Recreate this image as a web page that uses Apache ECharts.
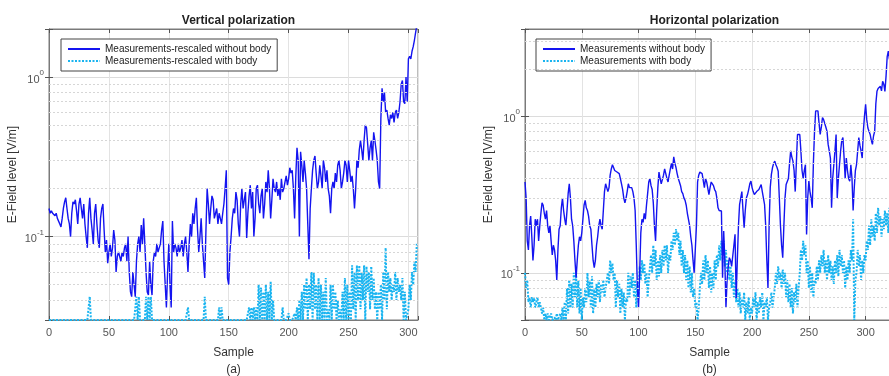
<!DOCTYPE html>
<html lang="en">
<head>
    <meta charset="UTF-8">
    <title>E-Field level</title>
    <script src="https://cdn.jsdelivr.net/npm/echarts@6/dist/echarts.min.js"></script>
</head>
<body style="margin:0;background:#fff;">
    <div id="main" style="width: 889px; height: 376px;"></div>
    <script>
    // 垂直极化 - 无人体 / 有人体
    var vertBlue = [
        .15,.14,.145,.14,.14,.135,.14,.13,.125,.12,
        .115,.13,.15,.165,.175,.15,.13,.12,.10,.14,
        .165,.16,.17,.145,.12,.16,.175,.15,.13,.16,
        .12,.10,.085,.14,.175,.13,.11,.09,.14,.16,
        .12,.095,.085,.13,.15,.16,.11,.08,.095,.068,
        .08,.09,.075,.085,.11,.095,.06,.075,.08,.075,
        .07,.08,.075,.085,.09,.07,.1,.06,.045,.042,
        .06,.05,.042,.07,.09,.1,.08,.118,.09,.13,
        .09,.06,.045,.043,.07,.05,.043,.07,.08,.075,
        .09,.08,.085,.09,.11,.125,.07,.05,.036,.06,
        .09,.05,.036,.125,.08,.09,.085,.075,.09,.08,
        .085,.095,.075,.09,.1,.08,.06,.09,.12,.1,
        .14,.12,.15,.175,.11,.08,.1,.13,.09,.07,
        .055,.11,.2,.16,.12,.15,.18,.17,.13,.14,
        .15,.12,.14,.13,.12,.14,.16,.2,.26,.055,
        .05,.08,.1,.13,.15,.14,.19,.17,.12,.1,
        .16,.2,.15,.17,.19,.098,.14,.18,.21,.15,
        .19,.1,.13,.2,.21,.16,.14,.18,.2,.13,
        .16,.22,.19,.26,.2,.13,.17,.23,.2,.19,
        .22,.18,.2,.17,.23,.19,.2,.22,.24,.21,
        .23,.27,.25,.26,.2,.13,.24,.36,.3,.1,
        .34,.28,.22,.3,.25,.2,.12,.072,.15,.2,
        .26,.3,.32,.25,.2,.22,.28,.24,.2,.3,
        .27,.22,.26,.2,.18,.14,.2,.22,.2,.25,
        .22,.28,.3,.26,.2,.22,.25,.3,.28,.22,
        .3,.26,.22,.24,.2,.15,.2,.3,.27,.35,
        .4,.35,.3,.4,.5,.48,.38,.3,.36,.4,
        .3,.45,.4,.35,.3,.22,.2,.55,.85,.7,
        .8,.6,.62,.55,.5,.58,.55,.6,.52,.6,
        .62,.55,.6,.7,.9,.95,.7,.68,1.0,.7,
        1.3,1.35,1.3,1.45,1.55,1.7,1.9,2.1
    ];
    var vertCyan = [
        .03,.03,.03,.03,.03,.03,.03,.03,.03,.03,
        .03,.03,.03,.03,.03,.03,.03,.03,.03,.03,
        .03,.03,.03,.03,.03,.03,.03,.03,.03,.03,
        .03,.03,.03,.03,.042,.03,.03,.03,.03,.03,
        .03,.03,.03,.03,.03,.03,.03,.03,.03,.03,
        .03,.03,.03,.03,.03,.03,.03,.03,.03,.03,
        .03,.03,.03,.03,.03,.03,.03,.03,.03,.03,
        .03,.03,.03,.042,.03,.042,.03,.03,.03,.03,
        .03,.042,.03,.042,.03,.042,.03,.03,.03,.03,
        .03,.03,.03,.03,.03,.03,.03,.03,.03,.03,
        .03,.03,.03,.03,.03,.03,.03,.03,.03,.03,
        .03,.03,.03,.03,.03,.03,.036,.03,.03,.03,
        .03,.03,.03,.03,.03,.03,.03,.03,.03,.03,
        .042,.03,.03,.03,.03,.03,.03,.03,.03,.03,
        .03,.03,.036,.03,.036,.03,.03,.03,.03,.03,
        .03,.03,.03,.03,.03,.03,.03,.03,.03,.03,
        .03,.03,.03,.03,.03,.03,.03,.036,.03,.036,
        .03,.036,.03,.036,.03,.05,.03,.048,.03,.045,
        .03,.05,.03,.045,.03,.052,.03,.04,.03,.03,
        .03,.03,.03,.03,.03,.036,.03,.03,.03,.03,
        .033,.03,.03,.03,.03,.033,.03,.036,.03,.04,
        .03,.045,.03,.05,.035,.055,.03,.05,.035,.06,
        .03,.06,.035,.05,.03,.055,.03,.05,.03,.045,
        .03,.055,.03,.035,.03,.05,.03,.05,.035,.045,
        .03,.04,.03,.035,.03,.045,.03,.055,.03,.05,
        .03,.045,.03,.066,.035,.06,.03,.066,.04,.066,
        .035,.06,.04,.066,.03,.065,.045,.06,.035,.065,
        .04,.055,.035,.045,.03,.045,.035,.05,.03,.06,
        .04,.085,.035,.06,.045,.055,.04,.05,.045,.06,
        .04,.055,.045,.05,.04,.055,.03,.045,.03,.03,
        .035,.05,.04,.06,.05,.07,.06,.09
    ];
    // 水平极化 - 无人体 / 有人体
    var horBlue = [
        .38,.3,.16,.14,.2,.23,.17,.12,.15,.22,
        .2,.22,.16,.2,.24,.28,.27,.24,.22,.25,
        .2,.18,.2,.16,.13,.15,.14,.12,.09,.14,
        .19,.2,.26,.3,.25,.22,.2,.25,.32,.37,
        .3,.22,.2,.16,.12,.093,.12,.15,.17,.16,
        .18,.22,.27,.29,.26,.25,.23,.2,.19,.15,
        .12,.108,.12,.15,.17,.2,.22,.2,.19,.25,
        .33,.37,.35,.33,.35,.42,.46,.49,.47,.45,
        .46,.44,.43,.43,.4,.37,.34,.3,.28,.3,
        .33,.37,.35,.34,.35,.33,.3,.25,.15,.08,
        .06,.1,.18,.22,.21,.24,.22,.27,.32,.38,
        .4,.36,.34,.28,.2,.16,.25,.35,.44,.4,
        .37,.38,.42,.46,.43,.4,.38,.42,.46,.5,
        .46,.55,.5,.47,.43,.4,.38,.36,.33,.32,
        .3,.29,.27,.24,.24,.2,.17,.15,.12,.1,
        .1,.2,.38,.42,.44,.45,.43,.42,.35,.4,
        .38,.385,.316,.35,.38,.385,.36,.34,.33,.3,
        .26,.25,.25,.248,.093,.185,.12,.06,.09,.11,
        .125,.12,.11,.113,.15,.176,.069,.12,.2,.273,
        .3,.33,.25,.194,.25,.3,.316,.34,.37,.385,
        .35,.33,.316,.32,.33,.33,.34,.35,.366,.33,
        .3,.273,.2,.12,.08,.2,.35,.425,.47,.5,
        .516,.49,.47,.445,.3,.2,.15,.125,.2,.3,
        .366,.366,.4,.5,.6,.55,.516,.45,.33,.5,
        .764,.764,.764,.6,.45,.4,.45,.49,.176,.3,
        .385,.33,.3,.26,.5,.8,1.08,1.05,1.08,.9,
        .764,.85,.98,.95,.93,.85,.8,.66,.6,.54,
        .26,.4,.49,.6,.764,.3,.4,.49,.6,.7,
        .73,.55,.4,.54,.45,.4,.385,.49,.4,.25,
        .35,.45,.49,.6,.73,.65,.6,.54,.8,1.0,
        1.19,.95,.84,.8,.764,.7,.66,.75,.8,1.2,
        1.44,1.5,1.52,1.55,1.45,1.67,1.6,1.44,1.8,2.4,
        2.6,2.3,2.8,3.0,2.7,3.2
    ];
    var horCyan = [
        .1,.08,.09,.065,.07,.06,.07,.065,.07,.06,
        .065,.07,.06,.065,.06,.055,.06,.05,.055,.05,
        .055,.05,.05,.055,.05,.05,.052,.05,.055,.05,
        .05,.055,.05,.06,.05,.065,.05,.08,.055,.09,
        .06,.085,.06,.1,.07,.1,.06,.09,.055,.08,
        .05,.07,.06,.08,.065,.1,.07,.09,.06,.095,
        .055,.08,.06,.085,.07,.09,.065,.085,.075,.09,
        .07,.08,.09,.1,.085,.12,.1,.115,.09,.1,
        .06,.09,.07,.085,.055,.08,.06,.075,.05,.07,
        .065,.1,.07,.095,.08,.1,.07,.09,.06,.085,
        .07,.11,.09,.12,.1,.115,.085,.1,.07,.09,
        .09,.13,.1,.15,.11,.14,.09,.12,.095,.13,
        .1,.14,.11,.15,.12,.15,.1,.13,.12,.16,
        .14,.18,.15,.19,.16,.18,.13,.16,.11,.14,
        .1,.13,.09,.12,.08,.11,.075,.1,.07,.08,
        .06,.065,.05,.06,.08,.1,.085,.12,.09,.13,
        .1,.12,.08,.11,.075,.1,.08,.12,.09,.13,
        .11,.15,.12,.16,.13,.16,.11,.14,.1,.12,
        .09,.11,.08,.1,.07,.09,.065,.08,.06,.075,
        .055,.07,.06,.075,.05,.065,.055,.07,.05,.06,
        .055,.07,.06,.075,.05,.065,.055,.07,.06,.075,
        .05,.065,.06,.07,.05,.06,.065,.075,.06,.07,
        .08,.1,.085,.11,.09,.1,.08,.105,.085,.1,
        .07,.09,.065,.085,.06,.08,.055,.075,.065,.085,
        .06,.08,.1,.14,.12,.16,.13,.15,.1,.12,
        .08,.11,.075,.1,.07,.09,.085,.11,.09,.12,
        .1,.13,.11,.14,.1,.12,.09,.13,.1,.12,
        .09,.11,.085,.12,.1,.13,.095,.14,.11,.13,
        .1,.12,.08,.11,.09,.12,.1,.14,.12,.22,
        .05,.09,.1,.14,.11,.13,.09,.12,.1,.13,
        .12,.16,.14,.2,.15,.22,.17,.2,.16,.24,
        .18,.26,.2,.23,.17,.22,.19,.25,.2,.24,
        .18,.26,.2,.27,.22,.25
    ];
    var xTicks = [0, 50, 100, 150, 200, 250, 300];

    var FONT = 'Liberation Sans';
    var BLUE = '#1414f0';
    var CYAN = '#19b4f0';

    // 对数轴次网格 2..9 x 10^k
    function minorVals(lo, hi) {
        var out = [];
        for (var k = -3; k <= 1; k++) {
            for (var m = 2; m <= 9; m++) {
                var v = m * Math.pow(10, k);
                if (v > lo * 1.001 && v < hi * 0.999) out.push({ yAxis: v });
            }
        }
        return out;
    }
    function powLabel(v) {
        var e = Math.log10(v);
        if (Math.abs(e - Math.round(e)) > 1e-6) return '';
        return '{b|10}{s|' + Math.round(e) + '}';
    }
    function toPairs(arr) {
        return arr.map(function (v, i) { return [i, v]; });
    }

    var myChart = echarts.init(document.getElementById('main'));

    var panels = [
        { left: 49, xmax: 308, ymin: 0.03, ymax: 2.0, title: 'Vertical polarization', tag: '(a)',
          names: ['Measurements-rescaled without body', 'Measurements-rescaled with body'],
          blue: vertBlue, cyan: vertCyan, legendLeft: 61 },
        { left: 525, xmax: 325, ymin: 0.05, ymax: 3.6, title: 'Horizontal polarization', tag: '(b)',
          names: ['Measurements without body', 'Measurements with body'],
          blue: horBlue, cyan: horCyan, legendLeft: 536 }
    ];

    var option = {
        animation: false,
        backgroundColor: '#fff',
        textStyle: { fontFamily: FONT },
        title: [], legend: [], grid: [], xAxis: [], yAxis: [], series: []
    };

    panels.forEach(function (p, idx) {
        option.grid.push({
            left: p.left, top: 29, width: 369, height: 291,
            outerBoundsMode: 'none', containLabel: false,
            show: true, borderColor: '#7a7a7a', borderWidth: 1, backgroundColor: '#fff'
        });
        option.title.push({
            text: p.title,
            left: p.left + 184.5, top: 10, textAlign: 'center',
            textStyle: { fontFamily: FONT, fontSize: 12, fontWeight: 'bold', color: '#222' }
        });
        option.legend.push({
            left: p.legendLeft, top: 39, orient: 'vertical',
            itemWidth: 32, itemHeight: 10, itemGap: 2,
            padding: [5, 6, 5, 6],
            borderColor: '#444', borderWidth: 1, backgroundColor: '#fff',
            itemStyle: { opacity: 0 },
            textStyle: { fontFamily: FONT, fontSize: 10, color: '#222' },
            data: p.names
        });
        // 底部/左侧轴
        option.xAxis.push({
            gridIndex: idx, type: 'value', min: 0, max: p.xmax, interval: 50,
            name: 'Sample\n' + p.tag, nameLocation: 'middle', nameGap: 24,
            nameTextStyle: { fontFamily: FONT, fontSize: 12, color: '#333', lineHeight: 17 },
            axisLine: { lineStyle: { color: '#7a7a7a' } },
            axisTick: { inside: true, length: 4, lineStyle: { color: '#555' } },
            axisLabel: { fontFamily: FONT, fontSize: 11, color: '#555', margin: 7,
                formatter: function (v) { return xTicks.indexOf(v) >= 0 ? String(v) : ''; } },
            splitLine: { show: true, lineStyle: { color: '#e3e3e3' } }
        });
        // 顶部轴（仅刻度）
        option.xAxis.push({
            gridIndex: idx, type: 'value', min: 0, max: p.xmax, interval: 50, position: 'top',
            axisLine: { lineStyle: { color: '#7a7a7a' } },
            axisTick: { inside: true, length: 4, lineStyle: { color: '#555' } },
            axisLabel: { show: false }, splitLine: { show: false }
        });
        option.yAxis.push({
            gridIndex: idx, type: 'log', logBase: 10, min: p.ymin, max: p.ymax,
            name: 'E-Field level [V/m]', nameLocation: 'middle', nameGap: 30,
            nameTextStyle: { fontFamily: FONT, fontSize: 12, color: '#333' },
            axisLine: { lineStyle: { color: '#7a7a7a' } },
            axisTick: { inside: true, length: 4, lineStyle: { color: '#555' } },
            axisLabel: { formatter: powLabel, margin: 5, color: '#555',
                rich: {
                    b: { fontFamily: FONT, fontSize: 11, color: '#555', lineHeight: 16, verticalAlign: 'bottom' },
                    s: { fontFamily: FONT, fontSize: 8, color: '#555', lineHeight: 16, verticalAlign: 'top' }
                } },
            splitLine: { show: true, lineStyle: { color: '#dcdcdc' } }
        });
        option.yAxis.push({
            gridIndex: idx, type: 'log', logBase: 10, min: p.ymin, max: p.ymax, position: 'right',
            axisLine: { lineStyle: { color: '#7a7a7a' } },
            axisTick: { inside: true, length: 4, lineStyle: { color: '#555' } },
            axisLabel: { show: false }, splitLine: { show: false }
        });

        option.series.push({
            name: p.names[0], type: 'line',
            xAxisIndex: idx * 2, yAxisIndex: idx * 2,
            data: toPairs(p.blue), symbol: 'none', clip: true, z: 3,
            lineStyle: { color: BLUE, width: 1.4 }, itemStyle: { color: BLUE },
            markLine: {
                silent: true, symbol: ['none', 'none'], animation: false,
                label: { show: false },
                lineStyle: { color: '#d6d6d6', type: [2, 2], width: 1 },
                data: minorVals(p.ymin, p.ymax)
            }
        });
        option.series.push({
            name: p.names[1], type: 'line',
            xAxisIndex: idx * 2, yAxisIndex: idx * 2,
            data: toPairs(p.cyan), symbol: 'none', clip: true, z: 2,
            lineStyle: { color: CYAN, width: 2, type: [2, 1.5] }, itemStyle: { color: CYAN }
        });
    });

    myChart.setOption(option);
    </script>
</body>
</html>
